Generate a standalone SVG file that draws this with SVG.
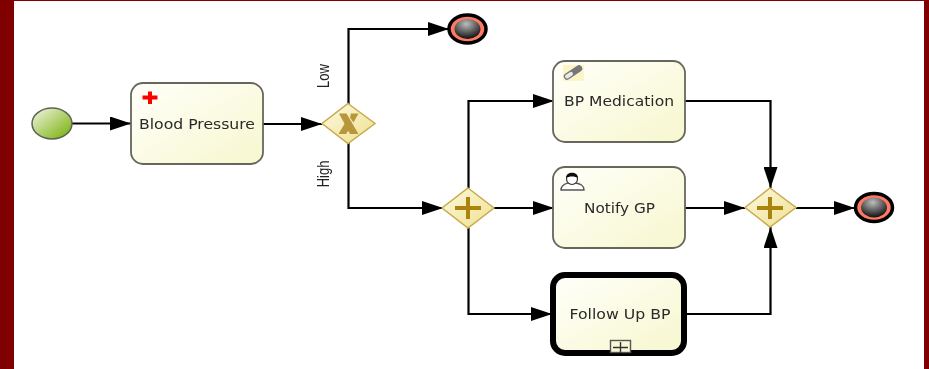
<svg xmlns="http://www.w3.org/2000/svg" width="929" height="369" viewBox="0 0 929 369">
<style>
.task{stroke:#66665c;stroke-width:1.800}
.lbl{font-family:"DejaVu Sans",sans-serif;font-size:14px;fill:#2a2a2a;text-anchor:middle}
.edge{fill:none;stroke:#000;stroke-width:2.200}
.side{font-family:"Liberation Sans",sans-serif;font-size:13px;fill:#222;text-anchor:middle}
.gw{fill:url(#gwFill);stroke:#c8ab4c;stroke-width:1.500}
.mark{fill:#aa8408}
</style>
<defs>
<filter id="soft" filterUnits="userSpaceOnUse" x="0" y="0" width="929" height="369"><feGaussianBlur stdDeviation="0.45"/></filter>
<linearGradient id="taskFill" x1="0" y1="0" x2="1" y2="1"><stop offset="0" stop-color="#fffffa"/><stop offset="1" stop-color="#f7f7cf"/></linearGradient>
<linearGradient id="gwFill" x1="0" y1="0" x2="1" y2="1"><stop offset="0" stop-color="#fdf9e2"/><stop offset="1" stop-color="#efe08e"/></linearGradient>
<linearGradient id="startFill" x1="0" y1="0" x2="1" y2="1"><stop offset="0" stop-color="#f4f6ea"/><stop offset="0.9" stop-color="#80b414"/></linearGradient>
<radialGradient id="endFill" cx="0.45" cy="0.25" r="0.85"><stop offset="0" stop-color="#bdbdbd"/><stop offset="0.9" stop-color="#0c0c0c"/></radialGradient>
<marker id="arrow" viewBox="0 0 21 14" refX="21" refY="7" markerWidth="21" markerHeight="14" markerUnits="userSpaceOnUse" orient="auto"><path d="M0 0L21 7L0 14Z" fill="#000"/></marker>
</defs>
<rect width="929" height="369" fill="#fff"/>
<g id="frame" fill="#800000"><rect x="0" y="0" width="14" height="369"/><rect x="924" y="0" width="5" height="369"/><rect x="0" y="0" width="929" height="1"/></g>
<g id="diagram" filter="url(#soft)">
<g id="connectors">
<path class="edge" marker-end="url(#arrow)" d="M72 123.500H131"/>
<path class="edge" marker-end="url(#arrow)" d="M263 124H322"/>
<path class="edge" marker-end="url(#arrow)" d="M348.500 104V29H449"/>
<path class="edge" marker-end="url(#arrow)" d="M348.500 143V208H443"/>
<path class="edge" marker-end="url(#arrow)" d="M468.500 188V101H554"/>
<path class="edge" marker-end="url(#arrow)" d="M494 208H554"/>
<path class="edge" marker-end="url(#arrow)" d="M468.500 228V314H552"/>
<path class="edge" marker-end="url(#arrow)" d="M685 101H770.500V188"/>
<path class="edge" marker-end="url(#arrow)" d="M685 208H745"/>
<path class="edge" marker-end="url(#arrow)" d="M685 314H770.500V227"/>
<path class="edge" marker-end="url(#arrow)" d="M796 208H855"/>
<text class="side" transform="translate(329,76) rotate(-90) scale(1,1.2)">Low</text>
<text class="side" transform="translate(329,174) rotate(-90) scale(1,1.2)">High</text>
</g>
<g id="start"><ellipse cx="52" cy="123.500" rx="20" ry="15.500" fill="url(#startFill)" stroke="#5c6650" stroke-width="1.500"/></g>
<g id="blood-pressure">
<rect class="task" x="131" y="83" width="132" height="81" rx="12" fill="url(#taskFill)"/>
<path d="M148 91.500h4v4h5.500v4h-5.500v4.500h-4v-4.500h-5.500v-4h5.500z" fill="#f00"/>
<text class="lbl" x="197" y="129" textLength="116" lengthAdjust="spacingAndGlyphs">Blood Pressure</text>
</g>
<g id="gateway-x">
<path class="gw" d="M348 103.500L375 123.500L348 143.500L322 123.500Z"/>
<path d="M339 113.500h7.500l12 20.500h-8.500zM351 113.500h7.500l-5 9-3.500-5zM338.500 134l6.500-11 4 6.500-3 4.500z" fill="#b8963a"/>
</g>
<g id="end-low"><ellipse cx="467.500" cy="29" rx="18.500" ry="14" fill="#ff7a60" stroke="#000" stroke-width="3.500"/><ellipse cx="467.500" cy="29" rx="13" ry="10" fill="url(#endFill)"/></g>
<g id="gateway-split">
<path class="gw" d="M468 188L494 208L468 228L442 208Z"/>
<path class="mark" d="M466 197h4v9h11v4h-11v9h-4v-9h-11v-4h11z"/>
</g>
<g id="bp-medication">
<rect class="task" x="553" y="61" width="132" height="81" rx="12" fill="url(#taskFill)"/>
<rect x="563" y="65" width="21" height="16" fill="#fbf5c8"/>
<path d="M567 76.500L579 68.500" stroke="#777" stroke-width="6.500" stroke-linecap="round"/>
<path d="M567 76.500L571 73.800" stroke="#e8e8e8" stroke-width="4" stroke-linecap="round"/>
<text class="lbl" x="619" y="106" textLength="110" lengthAdjust="spacingAndGlyphs">BP Medication</text>
</g>
<g id="notify-gp">
<rect class="task" x="553" y="167" width="132" height="81" rx="12" fill="url(#taskFill)"/>
<path d="M561 190c0-5 4-6 7-7l8 0c4 1 8 2 8 7z" fill="#fff" stroke="#555" stroke-width="1.400"/>
<ellipse cx="572" cy="179" rx="5.500" ry="5.500" fill="#fff" stroke="#333" stroke-width="1.200"/>
<path d="M566 178c0-7 12-7 12 0c-3-2-9-2-12 0z" fill="#111"/>
<text class="lbl" x="619.500" y="213" textLength="71" lengthAdjust="spacingAndGlyphs">Notify GP</text>
</g>
<g id="follow-up">
<rect x="553" y="275" width="131" height="78" rx="12" fill="url(#taskFill)" stroke="#000" stroke-width="6"/>
<text class="lbl" x="620" y="319" textLength="101" lengthAdjust="spacingAndGlyphs">Follow Up BP</text>
<rect x="610.500" y="340.500" width="20" height="12" fill="#f8f8d8" stroke="#555" stroke-width="1.400"/>
<path d="M620.500 342v11M613 347.500h15" stroke="#333" stroke-width="1.400"/>
</g>
<g id="gateway-join">
<path class="gw" d="M770 188L796 207.500L770 227L745 207.500Z"/>
<path class="mark" d="M768 197h4v9h11v4h-11v9h-4v-9h-11v-4h11z"/>
</g>
<g id="end-final"><ellipse cx="874" cy="207.500" rx="18.500" ry="14" fill="#ff7a60" stroke="#000" stroke-width="3.500"/><ellipse cx="874" cy="207.500" rx="13" ry="10" fill="url(#endFill)"/></g>
</g>
</svg>
